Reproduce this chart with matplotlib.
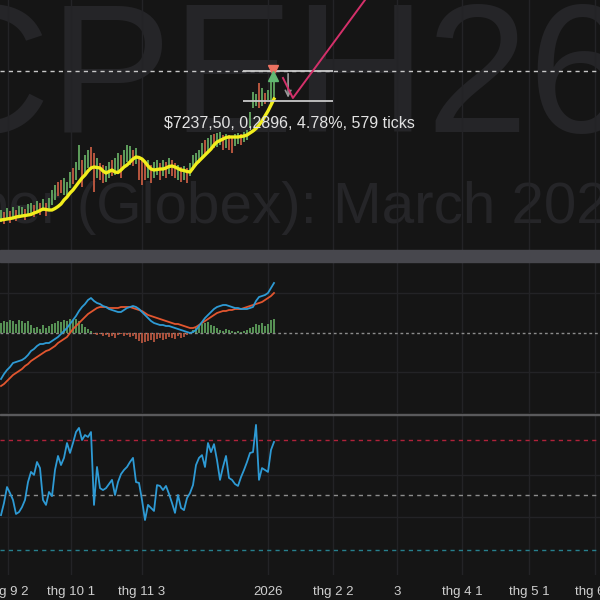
import matplotlib.pyplot as plt
from matplotlib.patches import Rectangle

plt.rcParams['font.family'] = ['Liberation Sans', 'DejaVu Sans']

BG = '#151515'
GRID = '#232326'
GREEN = '#5e9e5c'
RED = '#b8563f'

# time axis (bar index positions of the date labels)
tick_pos = [2.3, 23.3, 47, 89, 110.7, 132, 153.7, 176, 198]
tick_labels = ['thg 9 2', 'thg 10 1', 'thg 11 3', '2026', 'thg 2 2', '3',
               'thg 4 1', 'thg 5 1', 'thg 6 1']

# price pane
ma = [4.86, 4.865, 4.87, 4.875, 4.88, 4.89, 4.895, 4.90, 4.905, 4.91,
      4.915, 4.93, 4.94, 4.955, 4.97, 4.965, 4.96, 4.96, 4.975, 4.995,
      5.02, 5.06, 5.09, 5.13, 5.16, 5.20, 5.24, 5.28, 5.31, 5.35,
      5.38, 5.39, 5.385, 5.38, 5.35, 5.33, 5.345, 5.36, 5.34, 5.335,
      5.36, 5.39, 5.41, 5.44, 5.47, 5.49, 5.485, 5.47, 5.44, 5.40,
      5.37, 5.36, 5.365, 5.37, 5.37, 5.38, 5.395, 5.40, 5.39, 5.375,
      5.36, 5.355, 5.345, 5.34, 5.38, 5.42, 5.45, 5.48, 5.51, 5.54,
      5.57, 5.61, 5.64, 5.655, 5.67, 5.685, 5.69, 5.69, 5.69, 5.69,
      5.695, 5.70, 5.71, 5.73, 5.75, 5.775, 5.81, 5.85, 5.90, 5.95,
      6.01, 6.07]
highs = [4.96, 4.94, 4.98, 4.95, 4.99, 4.96, 5.00, 4.99, 4.97, 5.02,
         5.03, 5.01, 5.05, 5.03, 5.07, 5.03, 5.08, 5.16, 5.21, 5.24,
         5.26, 5.28, 5.24, 5.34, 5.38, 5.44, 5.61, 5.46, 5.51, 5.56,
         5.59, 5.53, 5.48, 5.43, 5.41, 5.40, 5.44, 5.46, 5.48, 5.53,
         5.51, 5.56, 5.61, 5.60, 5.56, 5.58, 5.49, 5.46, 5.44, 5.46,
         5.41, 5.44, 5.46, 5.43, 5.46, 5.44, 5.48, 5.46, 5.43, 5.41,
         5.39, 5.40, 5.38, 5.43, 5.51, 5.53, 5.56, 5.63, 5.66, 5.68,
         5.71, 5.72, 5.73, 5.74, 5.71, 5.72, 5.71, 5.69, 5.72, 5.73,
         5.72, 5.74, 5.76, 5.94, 6.14, 6.12, 6.23, 6.18, 6.13, 6.16,
         6.29, 6.30]
lows = [4.84, 4.82, 4.86, 4.83, 4.87, 4.85, 4.88, 4.90, 4.86, 4.90,
        4.92, 4.89, 4.93, 4.91, 4.95, 4.90, 4.96, 5.01, 5.06, 5.10,
        5.13, 5.11, 5.11, 5.18, 5.22, 5.26, 5.36, 5.19, 5.31, 5.38,
        5.36, 5.14, 5.28, 5.26, 5.23, 5.24, 5.28, 5.30, 5.31, 5.34,
        5.28, 5.38, 5.44, 5.41, 5.40, 5.42, 5.26, 5.21, 5.26, 5.28,
        5.23, 5.28, 5.31, 5.26, 5.30, 5.28, 5.32, 5.30, 5.28, 5.26,
        5.24, 5.26, 5.23, 5.30, 5.36, 5.40, 5.43, 5.48, 5.51, 5.54,
        5.56, 5.58, 5.59, 5.61, 5.56, 5.58, 5.56, 5.53, 5.60, 5.62,
        5.61, 5.64, 5.66, 5.78, 5.98, 6.00, 5.98, 6.00, 6.02, 6.06,
        6.02, 6.08]
up = [1, 0, 1, 0, 1, 0, 1, 1, 0, 1,
      1, 0, 1, 0, 1, 0, 1, 1, 1, 0,
      0, 1, 1, 1, 0, 1, 1, 0, 1, 1,
      0, 0, 1, 0, 0, 1, 1, 0, 1, 1,
      0, 1, 1, 1, 0, 1, 0, 0, 0, 1,
      0, 1, 1, 0, 1, 0, 1, 0, 0, 1,
      0, 1, 0, 1, 1, 1, 1, 1, 0, 1,
      1, 0, 1, 1, 0, 1, 0, 0, 1, 1,
      0, 1, 1, 1, 1, 1, 0, 1, 0, 1,
      1, 1]

# MACD pane
macd = [-0.092, -0.082, -0.074, -0.068, -0.060, -0.058, -0.056, -0.054, -0.050, -0.044,
        -0.036, -0.032, -0.026, -0.022, -0.022, -0.020, -0.020, -0.016, -0.012, -0.008,
        -0.002, 0.004, 0.010, 0.018, 0.026, 0.034, 0.044, 0.052, 0.058, 0.066,
        0.070, 0.064, 0.060, 0.058, 0.054, 0.052, 0.048, 0.046, 0.044, 0.042,
        0.042, 0.046, 0.050, 0.052, 0.054, 0.052, 0.048, 0.042, 0.036, 0.030,
        0.024, 0.020, 0.018, 0.016, 0.016, 0.014, 0.014, 0.012, 0.010, 0.008,
        0.006, 0.004, 0.002, 0.000, 0.002, 0.006, 0.014, 0.022, 0.030, 0.036,
        0.042, 0.048, 0.052, 0.054, 0.056, 0.056, 0.054, 0.052, 0.050, 0.050,
        0.048, 0.048, 0.048, 0.050, 0.052, 0.064, 0.072, 0.074, 0.076, 0.080,
        0.090, 0.100]
signal = [-0.106, -0.102, -0.096, -0.090, -0.084, -0.080, -0.076, -0.072, -0.066, -0.062,
          -0.056, -0.052, -0.048, -0.044, -0.040, -0.036, -0.034, -0.030, -0.026, -0.020,
          -0.016, -0.012, -0.008, 0.000, 0.008, 0.014, 0.020, 0.026, 0.032, 0.038,
          0.042, 0.046, 0.050, 0.052, 0.052, 0.052, 0.050, 0.050, 0.050, 0.050,
          0.052, 0.052, 0.052, 0.052, 0.050, 0.048, 0.046, 0.044, 0.040, 0.036,
          0.034, 0.032, 0.030, 0.028, 0.026, 0.024, 0.022, 0.020, 0.018, 0.018,
          0.016, 0.014, 0.012, 0.010, 0.010, 0.012, 0.016, 0.020, 0.024, 0.028,
          0.032, 0.036, 0.040, 0.042, 0.044, 0.044, 0.046, 0.046, 0.048, 0.048,
          0.048, 0.050, 0.052, 0.054, 0.056, 0.058, 0.060, 0.062, 0.066, 0.070,
          0.074, 0.080]
hist = [0.020, 0.024, 0.022, 0.026, 0.024, 0.018, 0.026, 0.024, 0.020, 0.024,
        0.016, 0.010, 0.012, 0.008, 0.016, 0.010, 0.014, 0.018, 0.020, 0.024,
        0.022, 0.026, 0.024, 0.028, 0.026, 0.028, 0.024, 0.018, 0.012, 0.008,
        0.004, -0.002, -0.004, -0.002, -0.006, -0.004, -0.008, -0.006, -0.010, -0.004,
        -0.002, -0.006, -0.004, -0.008, -0.006, -0.012, -0.016, -0.020, -0.018, -0.016,
        -0.014, -0.018, -0.012, -0.010, -0.014, -0.012, -0.008, -0.010, -0.012, -0.006,
        -0.010, -0.008, -0.004, -0.002, 0.006, 0.010, 0.016, 0.018, 0.020, 0.022,
        0.016, 0.014, 0.010, 0.006, 0.004, 0.008, 0.006, 0.004, 0.002, 0.004,
        0.002, 0.004, 0.006, 0.010, 0.012, 0.018, 0.016, 0.020, 0.014, 0.018,
        0.026, 0.028]

# RSI pane
rsi = [42.7, 47.1, 52.9, 50.7, 48.2, 43.1, 43.8, 45.6, 48.2, 54.7,
       58.4, 57.3, 62.0, 59.8, 48.2, 46.4, 51.1, 49.6, 59.1, 64.2,
       60.9, 63.5, 68.9, 65.3, 68.9, 72.9, 74.4, 70.0, 71.8, 71.1,
       72.9, 46.4, 60.2, 52.5, 51.8, 52.5, 54.0, 55.5, 50.0, 54.7,
       57.6, 59.1, 60.2, 62.0, 63.5, 54.7, 54.4, 48.2, 40.9, 46.4,
       45.3, 44.2, 53.6, 53.3, 51.8, 53.3, 50.4, 47.1, 43.5, 50.0,
       45.3, 44.5, 48.9, 50.7, 53.6, 60.9, 63.5, 64.5, 60.2, 68.9,
       65.6, 68.5, 62.7, 55.5, 60.2, 64.2, 56.2, 55.5, 54.0, 53.3,
       56.5, 59.1, 62.0, 65.3, 65.6, 75.5, 55.5, 59.8, 59.1, 58.4,
       66.4, 69.3]
rsi_levels = [70, 50, 30]
rsi_level_colors = ['#b0223a', '#8c8c8c', '#26808e']

# drawings on the price pane
last_price = 6.35
measure_top = 6.35
measure_bottom = 6.055
measure_x = [80.7, 110.7]
measure_text = '$7237,50, 0,2896, 4.78%, 579 ticks'
trend_x = [94, 97.3, 125]
trend_y = [6.28, 6.08, 7.21]

x = list(range(len(ma)))


def pane(top, bottom):
    # pane given in pixel rows of the 600 px figure
    ax = fig.add_axes([0, 1 - bottom / 600, 1, (bottom - top) / 600])
    ax.set_facecolor(BG)
    for s in ax.spines.values():
        s.set_visible(False)
    ax.set_xlim(-1 / 3, 200 - 1 / 3)
    ax.set_xticks(tick_pos)
    ax.tick_params(length=0, labelbottom=False, labelleft=False)
    ax.grid(True, color=GRID, lw=1)
    ax.set_axisbelow(True)
    return ax


fig = plt.figure(figsize=(6, 6), dpi=100, facecolor=BG)

# --------------------- price
ax1 = pane(0, 250)
ax1.set_ylim(4.56, 7.06)
ax1.set_yticks([])
ax1.text(0.458, 0.472, 'CPEH26', transform=ax1.transAxes, ha='center',
         va='baseline', fontsize=132, color='#252528', zorder=0)
ax1.text(0.425, 0.108, 'Copper (Globex): March 2026', transform=ax1.transAxes,
         ha='center', va='baseline', fontsize=42, color='#252528', zorder=0)

ax1.vlines(x, lows, highs, colors=[GREEN if u else RED for u in up], lw=1.4, zorder=2)
ax1.plot(x, ma, color='#f2ee1c', lw=2.4, zorder=3)

ax1.axhline(last_price, color='#c8c8c8', ls=(0, (3, 3)), lw=1, zorder=2)
ax1.hlines([measure_top, measure_bottom], measure_x[0], measure_x[1],
           color='#c8c8c8', lw=1.3, zorder=3)
ax1.annotate('', xy=(95.7, measure_bottom), xytext=(95.7, measure_top),
             arrowprops=dict(arrowstyle='->', color='#9a9a9a', lw=1.2), zorder=3)
ax1.plot(trend_x, trend_y, color='#d4306a', lw=1.4, zorder=4)
ax1.plot(90.7, 6.355, marker='v', color='#ec7262', ms=7, zorder=5)
ax1.plot(90.7, 6.30, marker='^', color='#62b872', ms=7, zorder=5)
ax1.text(96, 5.82, measure_text, ha='center', va='center', fontsize=11.5,
         color='#e2e2e2', zorder=5)

# pane separators
fig.patches.append(Rectangle((0, 1 - 262 / 600), 1, 12 / 600,
                             transform=fig.transFigure, color='#47474d'))
fig.patches.append(Rectangle((0, 1 - 415 / 600), 1, 1.5 / 600,
                             transform=fig.transFigure, color='#5a5a5c'))

# --------------------- MACD
ax2 = pane(262, 413)
ax2.set_ylim(-0.16, 0.142)
ax2.set_yticks([-0.078, 0.08])
ax2.bar(x, hist, width=0.6, color=[GREEN if h >= 0 else RED for h in hist],
        alpha=0.9, zorder=2)
ax2.axhline(0, color='#8c8c8c', ls=(0, (2, 2)), lw=1, zorder=1)
ax2.plot(x, signal, color='#e2562f', lw=1.3, zorder=3)
ax2.plot(x, macd, color='#2e9ad4', lw=1.3, zorder=4)

# --------------------- RSI
ax3 = pane(416, 575)
ax3.set_ylim(20.91, 78.73)
ax3.set_yticks([42, 57.3])
for lvl, c in zip(rsi_levels, rsi_level_colors):
    ax3.axhline(lvl, color=c, ls=(0, (3, 3)), lw=1, zorder=1)
ax3.plot(x, rsi, color='#2e9ad4', lw=1.3, zorder=3)
ax3.set_xticks(tick_pos, tick_labels)
ax3.tick_params(axis='x', labelbottom=True, pad=8, labelsize=9.5, labelcolor='#cfcfcf')

fig.savefig('out.png', dpi=100, facecolor=BG)
